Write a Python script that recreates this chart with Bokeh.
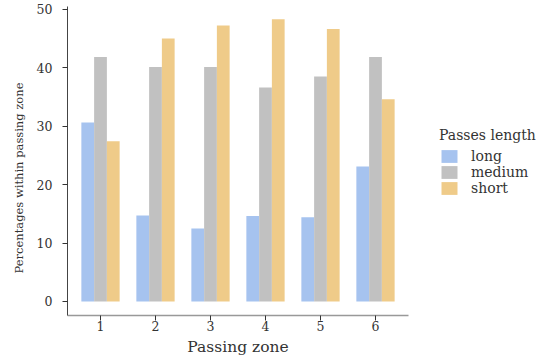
from bokeh.plotting import figure
from bokeh.models import ColumnDataSource, Range1d, FixedTicker, Legend, LegendItem, Title
from bokeh.transform import dodge
from bokeh.embed import file_html
from bokeh.resources import INLINE

zones = [1, 2, 3, 4, 5, 6]
long_vals = [30.6, 14.7, 12.5, 14.6, 14.4, 23.1]
medium_vals = [41.8, 40.1, 40.1, 36.6, 38.5, 41.8]
short_vals = [27.4, 45.0, 47.2, 48.3, 46.6, 34.6]
series = ["long", "medium", "short"]
colors = ["#a6c3ef", "#c1c1c1", "#efcb89"]
y_ticks = [0, 10, 20, 30, 40, 50]

FONT = "DejaVu Serif"

src = ColumnDataSource(dict(zone=zones, long=long_vals, medium=medium_vals, short=short_vals))

p = figure(frame_width=341, frame_height=309, output_backend="svg", toolbar_location=None,
           x_range=Range1d(0.4, 6.6), y_range=Range1d(-2.4, 50.46),
           min_border_left=67, min_border_right=133, min_border_top=6, min_border_bottom=0)

bw = 0.232
offsets = [-bw, 0.0, bw]
items = []
for name, col, off in zip(series, colors, offsets):
    r = p.vbar(x=dodge("zone", off, range=p.x_range), top=name, bottom=0, width=bw,
               source=src, fill_color=col, line_color=None)
    items.append(LegendItem(label=name, renderers=[r]))

p.grid.visible = False
p.outline_line_color = None
p.background_fill_color = "white"

p.xaxis.ticker = FixedTicker(ticks=zones)
p.yaxis.ticker = FixedTicker(ticks=y_ticks)
p.xaxis.axis_label = "Passing zone"

for ax in (p.xaxis[0], p.yaxis[0]):
    ax.major_label_text_font = FONT
    ax.axis_label_text_font = FONT
    ax.axis_label_text_font_style = "normal"
    ax.major_label_text_color = "#333333"
    ax.axis_label_text_color = "#333333"
    ax.minor_tick_line_color = None
    ax.major_tick_in = 0
    ax.major_tick_out = 5
    ax.major_tick_line_color = "#333333"

p.yaxis.axis_line_color = "#444444"
p.xaxis.axis_line_color = "#999999"
p.xaxis.axis_line_width = 1.5
p.yaxis.major_label_text_font_size = "12.5px"
p.xaxis.major_label_text_font_size = "12.5px"
p.xaxis.axis_label_text_font_size = "15.5px"
p.yaxis.major_label_standoff = 10
p.xaxis.major_label_standoff = 0
p.xaxis.axis_label_standoff = 4

ylab = Title(text="Percentages within passing zone", align="left", offset=42,
             text_font=FONT, text_font_size="11.5px", text_font_style="normal",
             text_color="#333333", standoff=16)
p.add_layout(ylab, "left")

legend = Legend(items=items, title="Passes length", location=(31, 119),
                title_text_font=FONT, title_text_font_size="14px", title_text_color="#333333",
                title_text_font_style="normal",
                label_text_font=FONT, label_text_font_size="14px", label_text_color="#333333",
                glyph_width=20, glyph_height=16, label_height=16, spacing=0,
                label_standoff=12, padding=2, margin=0,
                border_line_color=None, background_fill_alpha=0)
p.add_layout(legend, "right")

open("out.html", "w").write(file_html(p, INLINE))
